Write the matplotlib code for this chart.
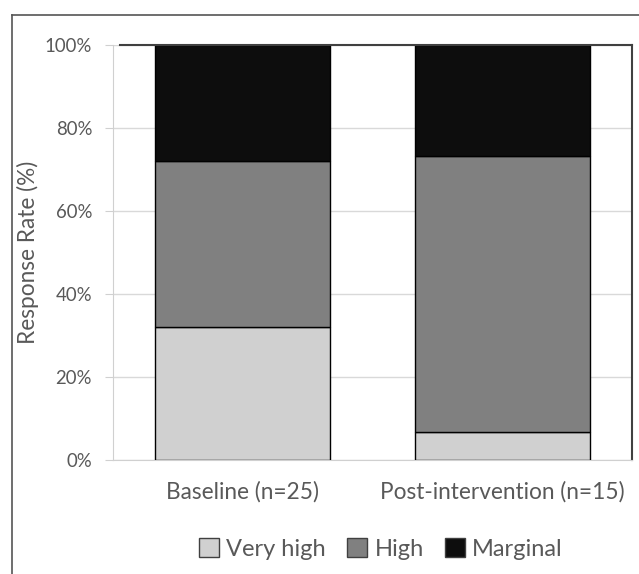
import matplotlib
matplotlib.use("Agg")
import matplotlib.pyplot as plt
from matplotlib.patches import Patch
from matplotlib.lines import Line2D

# data
categories = ["Baseline (n=25)", "Post-intervention (n=15)"]
series_names = ["Very high", "High", "Marginal"]
very_high = [32.0, 6.7]
high = [40.0, 66.6]
marginal = [28.0, 26.7]
yticks = [0, 20, 40, 60, 80, 100]

colors = ["#d0d0d0", "#808080", "#0d0d0d"]
text_col = "#595959"

plt.rcParams["font.family"] = ["Lato", "DejaVu Sans"]

fig = plt.figure(figsize=(6.39, 5.74), dpi=100)
ax = fig.add_axes([113 / 639, 1 - 460 / 574, 519 / 639, 415 / 574])

x = list(range(len(categories)))
bottom = [0.0] * len(categories)
for name, vals, col in zip(series_names, [very_high, high, marginal], colors):
    ax.bar(x, vals, width=0.674, bottom=bottom, color=col, edgecolor="black",
           linewidth=1, label=name, zorder=3)
    bottom = [b + v for b, v in zip(bottom, vals)]

ax.set_xlim(-0.5, 1.5)
ax.set_ylim(0, 100)
ax.set_yticks(yticks)
ax.set_yticklabels([f"{t}%" for t in yticks])
ax.set_xticks(x)
ax.set_xticklabels(categories)
ax.yaxis.grid(True, color="#d9d9d9", linewidth=1, zorder=0)
ax.set_axisbelow(True)

for s in ["left", "bottom"]:
    ax.spines[s].set_color("#d0d0d0")
ax.spines["top"].set_visible(False)
ax.spines["right"].set_color("#404040")
ax.spines["right"].set_linewidth(1.5)
# dark top edge that starts a little right of the axis
ax.add_line(Line2D([7 / 519, 1], [1, 1], transform=ax.transAxes, color="#404040",
                   linewidth=1.5, clip_on=False, zorder=4))

ax.tick_params(axis="y", colors="#d0d0d0", labelcolor=text_col, labelsize=13.4,
               length=6, pad=9)
ax.tick_params(axis="x", length=0, labelcolor=text_col, labelsize=16.3, pad=15)
ax.set_ylabel("Response Rate (%)", color=text_col, fontsize=16.3)
ax.yaxis.set_label_coords(-0.142, 0.5)

handles = [Patch(facecolor=c, edgecolor="#404040", linewidth=1) for c in colors]
fig.legend(handles, series_names, loc="center", bbox_to_anchor=(381 / 639, 1 - 549 / 574),
           ncol=3, frameon=False, fontsize=17, labelcolor=text_col,
           handlelength=0.85, handleheight=0.85, handletextpad=0.3, columnspacing=0.9)

# outer border lines (left and top)
fig.add_artist(Line2D([12 / 639, 12 / 639], [0, 1 - 15 / 574], transform=fig.transFigure,
                      color="#555555", linewidth=1.2))
fig.add_artist(Line2D([12 / 639, 1], [1 - 15 / 574, 1 - 15 / 574], transform=fig.transFigure,
                      color="#555555", linewidth=1.2))

fig.savefig("out.png", dpi=100)
